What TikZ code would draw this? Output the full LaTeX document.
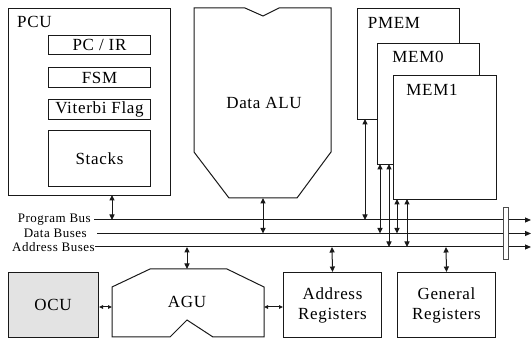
\documentclass[tikz,border=0pt]{standalone}
\usepackage{fontspec}
\setmainfont{Liberation Serif}[LetterSpace=4.0]
\usetikzlibrary{arrows.meta}

\tikzset{
  line/.style={draw=black!90, line width=1pt},
  box/.style={line, fill=white, rectangle, inner sep=0pt, anchor=north west},
  lbl/.style={font=\fontsize{17}{19}\selectfont, inner sep=0pt, align=center},
  buslbl/.style={font=\fontsize{13}{15}\selectfont, inner sep=0pt, anchor=east},
  bus/.style={line, -{Triangle[length=6pt,width=5pt]}},
  link/.style={line, {Triangle[length=5.5pt,width=5pt]}-{Triangle[length=5.5pt,width=5pt]}},
  slink/.style={line, {Triangle[length=4pt,width=3.5pt]}-{Triangle[length=4pt,width=3.5pt]}}
}

\begin{document}
\begin{tikzpicture}[x=1pt, y=-1pt]
\useasboundingbox (0,0) rectangle (531,339);

% ---- program control unit
\node[box, minimum width=162pt, minimum height=187pt] (pcu) at (8,8) {};
\node[lbl, anchor=west] (pculbl) at (17,22) {PCU};
\node[box, lbl, anchor=north west, minimum width=102pt, minimum height=19pt] (pcir) at (48,35) {PC / IR};
\node[box, lbl, anchor=north west, minimum width=102pt, minimum height=20pt] (fsm) at (48,67) {FSM};
\node[box, lbl, anchor=north west, minimum width=102pt, minimum height=20pt] (vit) at (48,99) {Viterbi Flag};
\node[box, lbl, anchor=north west, minimum width=102pt, minimum height=56pt] (stk) at (48,130) {Stacks};

% ---- data ALU
\draw[line] (194,8) -- (245,8) -- (263,16) -- (279,8) -- (331,8) -- (331,152)
  -- (297,198) -- (229,198) -- (194,152) -- cycle;
\node[lbl] (alu) at (264,103) {Data ALU};
\coordinate (alub) at (263,198);

% ---- memories
\node[box, minimum width=102pt, minimum height=111pt] (pmem) at (357,8) {};
\node[lbl] (pmemlbl) at (394,23) {PMEM};
\node[box, minimum width=102pt, minimum height=121pt] (mem0) at (377,43) {};
\node[lbl] (mem0lbl) at (418,57) {MEM0};
\node[box, minimum width=103pt, minimum height=124pt] (mem1) at (393,75) {};
\node[lbl] (mem1lbl) at (432,90) {MEM1};

% ---- buses
\node[buslbl] (pbl) at (91,220) {Program Bus};
\node[buslbl] (dbl) at (87,233.5) {Data Buses};
\node[buslbl] (abl) at (95,247) {Address Buses};
\coordinate (pb0) at (94,220);  \coordinate (pb1) at (531,220);
\coordinate (db0) at (97,233.5);  \coordinate (db1) at (531,233.5);
\coordinate (ab0) at (95,247);  \coordinate (ab1) at (531,247);
\draw[bus] (pb0) -- (pb1);
\draw[bus] (db0) -- (db1);
\draw[bus] (ab0) -- (ab1);
\node[draw=black!70, line width=1pt, fill=white, minimum width=5pt, minimum height=52pt,
  inner sep=0pt, anchor=north west] (bar) at (503,207) {};

% ---- bottom row
\node[box, fill=black!11, minimum width=90pt, minimum height=65pt] (ocu) at (8,272) {};
\node[lbl] (oculbl) at (53,305) {OCU};
\draw[line] (112,287) -- (150,269) -- (227,269) -- (264,287) -- (264,337)
  -- (213,337) -- (187,320) -- (170,337) -- (112,337) -- cycle;
\node[lbl] (agu) at (187,302) {AGU};
\node[box, lbl, minimum width=98pt, minimum height=65pt] (areg) at (283,272)
  {Address\\[1pt]Registers};
\node[box, lbl, minimum width=98pt, minimum height=65pt] (greg) at (397,272)
  {General\\[1pt]Registers};

% ---- connections between units and buses
\draw[link] (112,195) -- (112,220);
\draw[link] (alub) -- (263,233.5);
\draw[link] (365,119) -- (365,220);
\draw[link] (380,164) -- (380,233.5);
\draw[link] (389,164) -- (389,247);
\draw[link] (397,199) -- (397,233.5);
\draw[link] (407,199) -- (407,247);
\draw[link] (187,247) -- (187,269);
\draw[link] (332,247) -- (areg.north);
\draw[link] (446,247) -- (greg.north);
\draw[slink] (ocu.east |- 0,307) -- (112,307);
\draw[slink] (264,307) -- (areg.west |- 0,307);
\end{tikzpicture}
\end{document}
